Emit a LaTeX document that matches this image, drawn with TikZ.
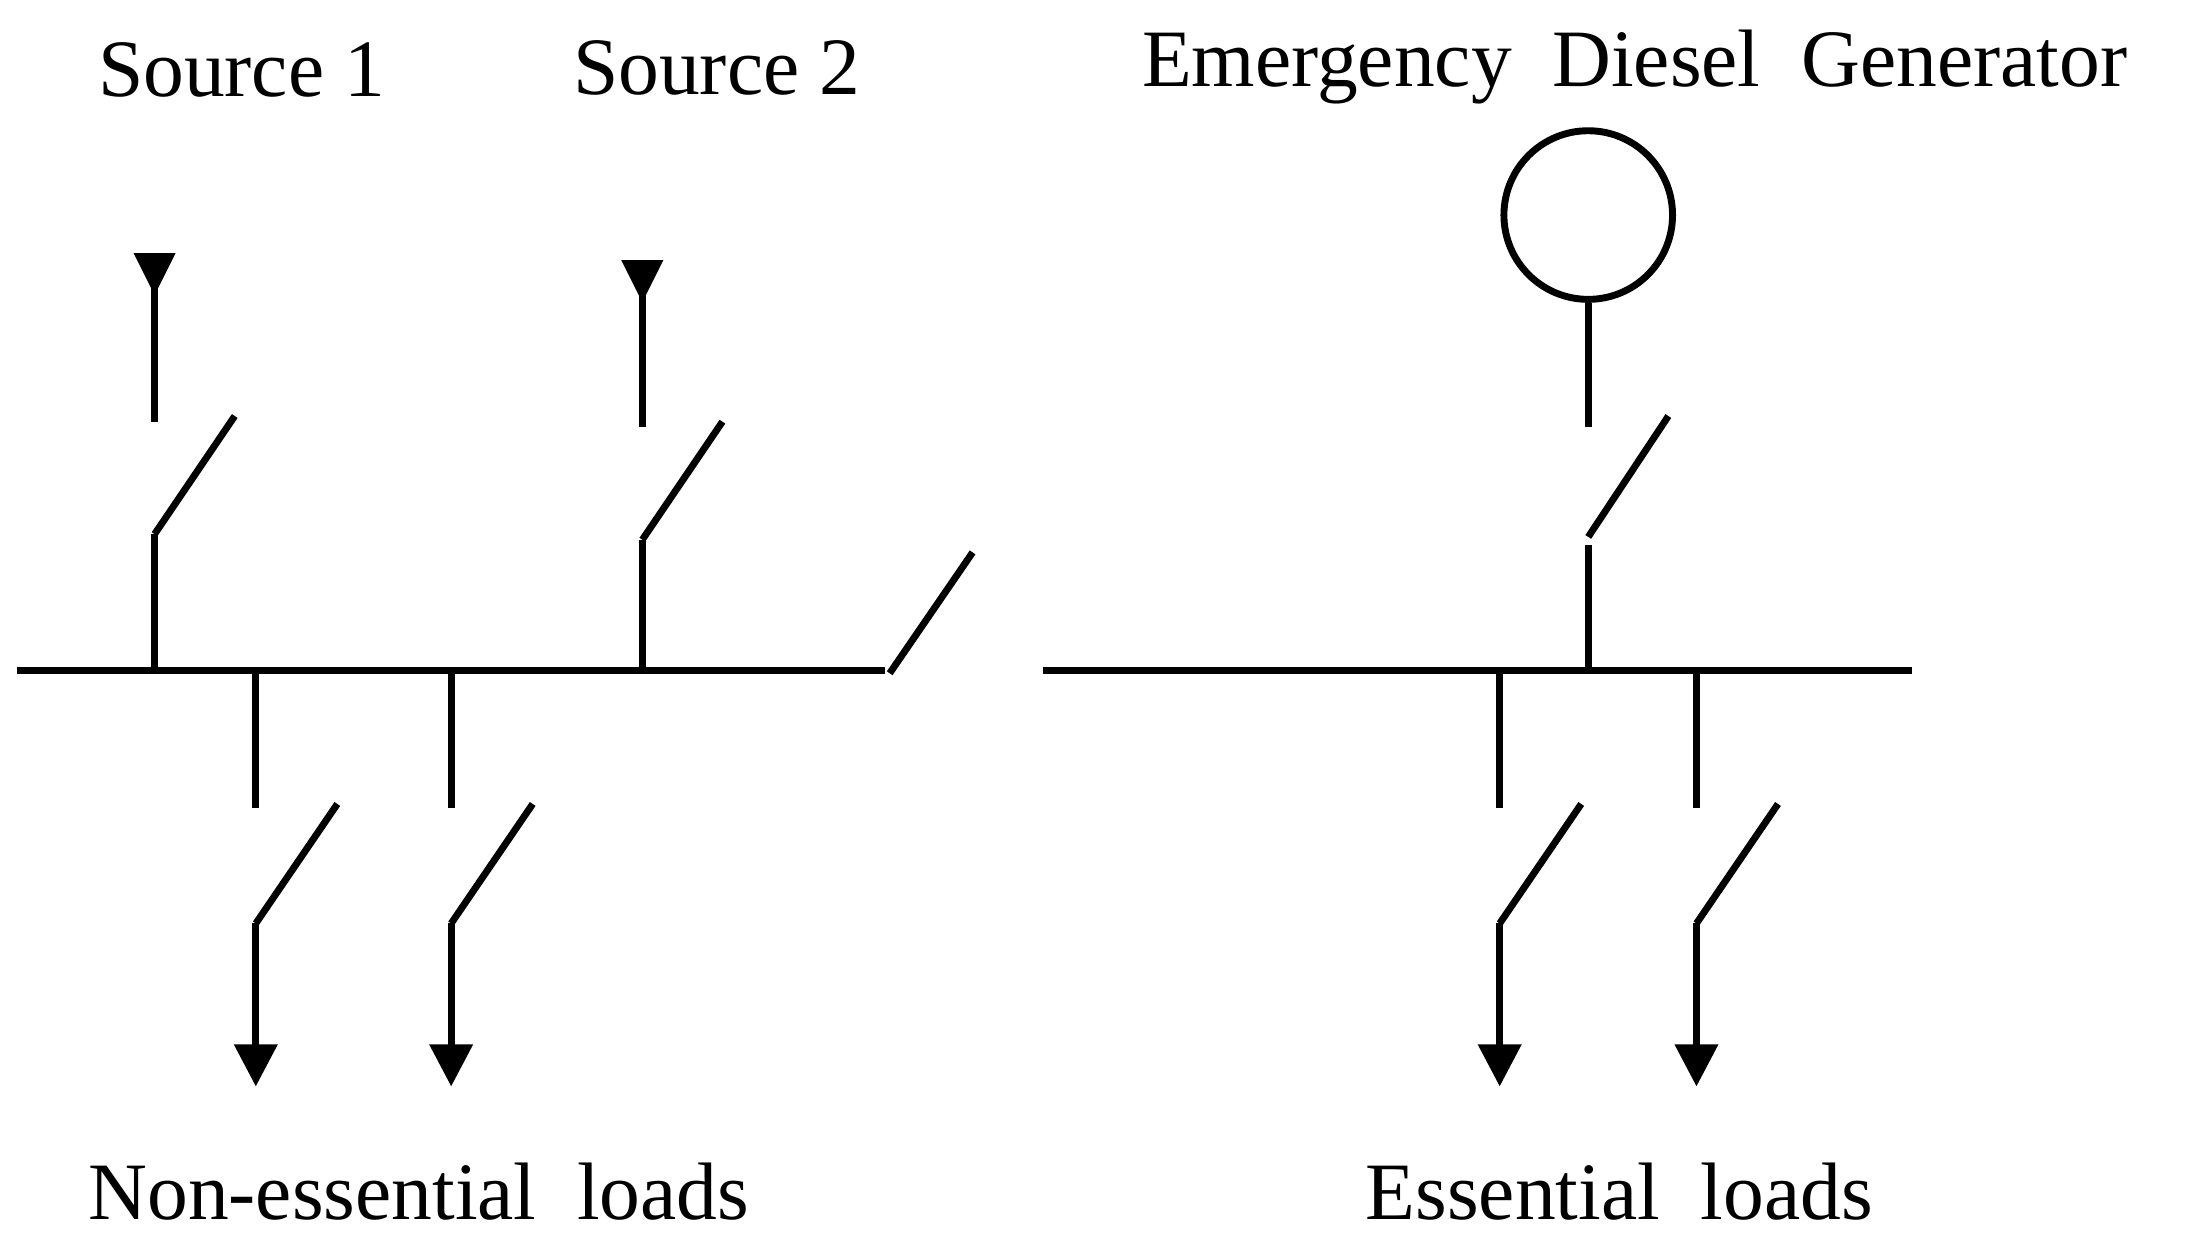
\documentclass[tikz,border=0pt]{standalone}
\usepackage{fontspec}
\setmainfont{Liberation Serif}
\usetikzlibrary{arrows.meta}
\begin{document}
\begin{tikzpicture}[x=0.02cm,y=-0.02cm,
  w/.style={line width=2.8pt},
  lbl/.style={font=\fontsize{33}{36}\selectfont,inner sep=0pt},
  ar/.style={w,-{Triangle[length=0.6cm,width=0.6cm]}},
  src/.style={fill=black,draw=none}]
\useasboundingbox (0,0) rectangle (1561,883);
% buses
\coordinate (b1a) at (12,477); \coordinate (b1b) at (630,477);
\draw[w] (b1a) -- (b1b);
\coordinate (t1a) at (633,479); \coordinate (t1b) at (692,393);
\draw[w] (t1a) -- (t1b);
\coordinate (b2a) at (742,477); \coordinate (b2b) at (1360,477);
\draw[w] (b2a) -- (b2b);
% sources
\foreach \x/\t/\s in {110/180/300, 457/185/304}{
  \fill (\x-15,\t) -- (\x+15,\t) -- (\x,\t+30) -- cycle;
  \draw[w] (\x,\t+25) -- (\x,\s);
  \draw[w] (\x,\s+80) -- (\x+57,\s-4);
  \draw[w] (\x,\s+80) -- (\x,477);
}
% generator
\node[circle,draw,line width=2.8pt,minimum size=2.4cm,inner sep=0pt] (g) at (1130,153) {};
\coordinate (g1) at (1130,304);
\draw[w] (g.south) -- (g1);
\draw[w] (1130,382) -- (1187,296);
\draw[w] (1130,388) -- (1130,477);
% loads
\foreach \x in {182,321,1067,1207}{
  \draw[w] (\x,477) -- (\x,575);
  \draw[w] (\x,657) -- (\x+58,572);
  \draw[ar] (\x,657) -- (\x,773);
}
\node[lbl] (s1) at (172,50) {Source 1};
\node[lbl] (s2) at (510,48) {Source 2};
\node[lbl] (edg) at (1163,48) {Emergency\ \ Diesel\ \ Generator};
\node[lbl] (nl) at (298,848) {Non-essential\ \ loads};
\node[lbl] (el) at (1152,848) {Essential\ \ loads};
\end{tikzpicture}
\end{document}
